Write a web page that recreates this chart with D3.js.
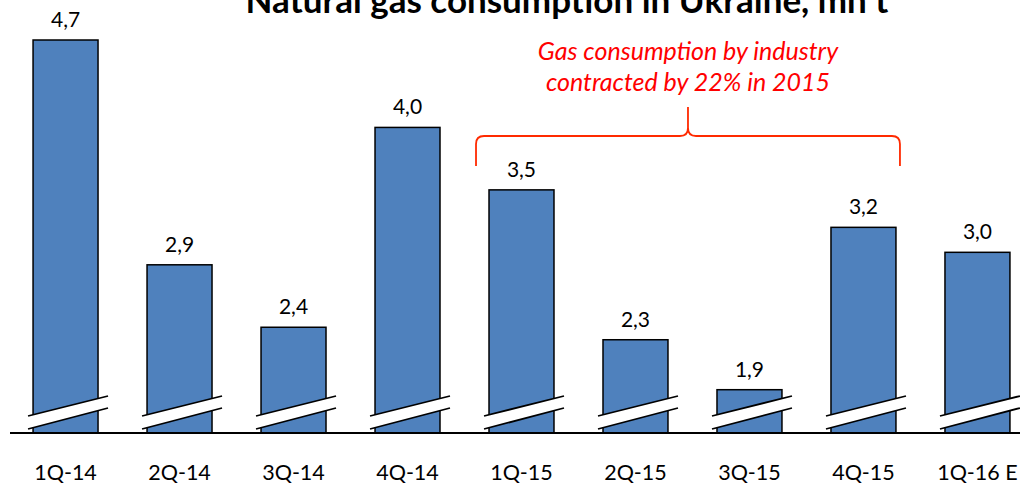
<!DOCTYPE html>
<html>
<head>
<meta charset="utf-8">
<script src="https://cdn.jsdelivr.net/npm/d3@7"></script>
<style>
  body { margin: 0; background: #fff; }
  text { font-family: Lato, "Open Sans", sans-serif; }
</style>
</head>
<body>
<script>
// chart data
var quarters = ["1Q-14", "2Q-14", "3Q-14", "4Q-14", "1Q-15", "2Q-15", "3Q-15", "4Q-15", "1Q-16 E"];
var values = [4.7, 2.9, 2.4, 4.0, 3.5, 2.3, 1.9, 3.2, 3.0];
var valueLabels = ["4,7", "2,9", "2,4", "4,0", "3,5", "2,3", "1,9", "3,2", "3,0"];
var titleText = "Natural gas consumption in Ukraine, mn t";
var noteLines = ["Gas consumption by industry", "contracted by 22% in 2015"];
// first and last quarter covered by the brace
var braceFrom = "1Q-15", braceTo = "4Q-15";

var w = 1020, h = 485;
var baseY = 433;

var svg = d3.select("body").append("svg")
    .attr("width", w)
    .attr("height", h);

// x scale: one band per quarter
var x = d3.scaleBand()
    .domain(quarters)
    .range([0, 1043])
    .paddingInner(0.43)
    .paddingOuter(0.29);

// y scale (axis is broken, zero lies below the visible baseline)
var y = d3.scaleLinear()
    .domain([0, 4.7])
    .range([627, 40]);

var bw = x.bandwidth();

// bars
svg.selectAll("rect.bar")
    .data(values)
    .enter()
    .append("rect")
    .attr("class", "bar")
    .attr("x", function(d, i) { return x(quarters[i]); })
    .attr("y", function(d) { return y(d); })
    .attr("width", bw)
    .attr("height", function(d) { return baseY - y(d); })
    .attr("fill", "#4f81bd")
    .attr("stroke", "#000")
    .attr("stroke-width", 1.5);

// break marks on each bar
var breaks = svg.selectAll("g.brk")
    .data(quarters)
    .enter()
    .append("g")
    .attr("class", "brk")
    .attr("transform", function(d) { return "translate(" + x(d) + ",0)"; });

breaks.append("polygon")
    .attr("points", [[-5, 416], [bw + 10, 396], [bw + 10, 408], [-5, 429]].join(" "))
    .attr("fill", "#fff");
breaks.append("line")
    .attr("x1", -5).attr("y1", 416).attr("x2", bw + 10).attr("y2", 396)
    .attr("stroke", "#000").attr("stroke-width", 1.8);
breaks.append("line")
    .attr("x1", -5).attr("y1", 429).attr("x2", bw + 10).attr("y2", 408)
    .attr("stroke", "#000").attr("stroke-width", 1.8);

// baseline
svg.append("line")
    .attr("x1", 10).attr("x2", w)
    .attr("y1", baseY).attr("y2", baseY)
    .attr("stroke", "#000")
    .attr("stroke-width", 2);

// value labels
svg.selectAll("text.val")
    .data(values)
    .enter()
    .append("text")
    .attr("class", "val")
    .attr("x", function(d, i) { return x(quarters[i]) + bw / 2; })
    .attr("y", function(d) { return y(d) - 13; })
    .attr("text-anchor", "middle")
    .style("font-size", "21px")
    .text(function(d, i) { return valueLabels[i]; });

// category labels
svg.selectAll("text.cat")
    .data(quarters)
    .enter()
    .append("text")
    .attr("class", "cat")
    .attr("x", function(d) { return x(d) + bw / 2; })
    .attr("y", 480)
    .attr("text-anchor", "middle")
    .style("font-size", "21.5px")
    .text(function(d) { return d; });

// title (cut off at the top)
svg.append("text")
    .attr("x", 567)
    .attr("y", 13)
    .attr("text-anchor", "middle")
    .style("font-size", "35px")
    .style("font-weight", "bold")
    .text(titleText);

// brace over 2015 quarters
var bx0 = x(braceFrom) - 13, bx1 = x(braceTo) + bw + 4;
var bmid = (bx0 + bx1) / 2, by = 136, r = 8;
var brace = "M" + bx0 + "," + 166 +
    " L" + bx0 + "," + (by + r) +
    " Q" + bx0 + "," + by + " " + (bx0 + r) + "," + by +
    " L" + (bmid - r) + "," + by +
    " Q" + bmid + "," + by + " " + bmid + "," + (by - r) +
    " L" + bmid + "," + 107 +
    " M" + bmid + "," + (by - r) +
    " Q" + bmid + "," + by + " " + (bmid + r) + "," + by +
    " L" + (bx1 - r) + "," + by +
    " Q" + bx1 + "," + by + " " + bx1 + "," + (by + r) +
    " L" + bx1 + "," + 166;
svg.append("path")
    .attr("d", brace)
    .attr("fill", "none")
    .attr("stroke", "#ff2a00")
    .attr("stroke-width", 1.8);

// annotation
svg.selectAll("text.note")
    .data(noteLines)
    .enter()
    .append("text")
    .attr("class", "note")
    .attr("x", bmid)
    .attr("y", function(d, i) { return 60 + i * 31; })
    .attr("text-anchor", "middle")
    .attr("fill", "#ff0000")
    .style("font-size", "25px")
    .style("font-style", "italic")
    .text(function(d) { return d; });
</script>
</body>
</html>
